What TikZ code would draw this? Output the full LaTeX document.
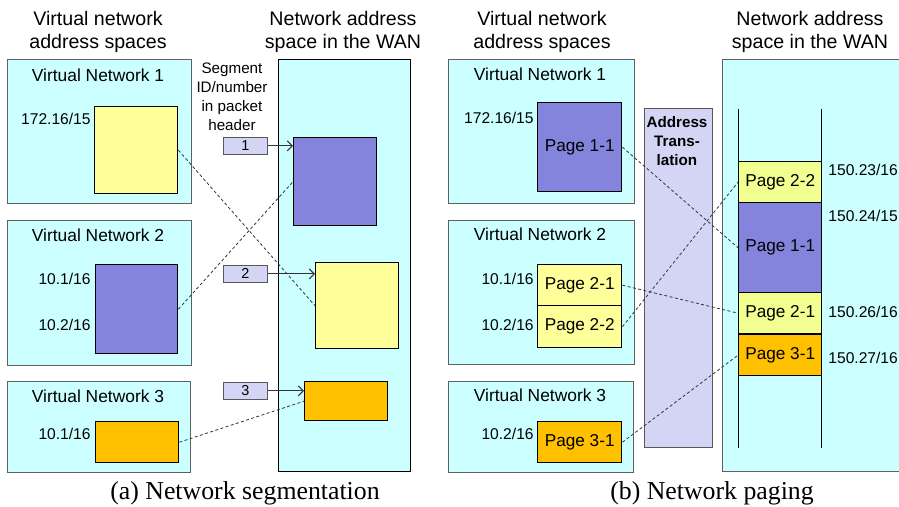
\documentclass[tikz,border=0pt]{standalone}
\usepackage{fontspec}
\setmainfont{Liberation Sans}
\newfontfamily\capfont{Liberation Serif}
\usetikzlibrary{arrows.meta, positioning}

\definecolor{cyanbg}{HTML}{CCFFFF}
\definecolor{ylw}{HTML}{FFFF99}
\definecolor{lime}{HTML}{F0FF90}
\definecolor{blu}{HTML}{8484DC}
\definecolor{org}{HTML}{FFC000}
\definecolor{lav}{HTML}{D4D4F4}

\begin{document}
\begin{tikzpicture}[x=0.5pt, y=-0.5pt,
        space/.style={draw=gray!75!black, fill=cyanbg, anchor=north west, inner sep=0pt, line width=0.5pt},
        blk/.style={draw=black, anchor=north west, inner sep=0pt, line width=0.7pt, font=\fontsize{8.6}{10}\selectfont},
        tag/.style={draw=gray!70!black, fill=lav, anchor=north west, inner sep=0pt, minimum width=22pt, minimum height=8.5pt, font=\fontsize{7.2}{8}\selectfont},
        head/.style={align=center, font=\fontsize{9.8}{11.5}\selectfont},
        title/.style={font=\fontsize{8.7}{10}\selectfont},
        lbl/.style={font=\fontsize{7.8}{9}\selectfont, inner sep=1pt},
        caption/.style={font=\capfont\fontsize{12.9}{14}\selectfont},
        link/.style={dash pattern=on 1.5pt off 1.2pt, line width=0.4pt, black!80},
        ptr/.style={-{Straight Barb[length=2.5pt, width=5pt]}, line width=0.5pt, gray!40!black}
    ]
    \clip (0,0) rectangle (899,507);

    % (a) network segmentation
    \node[head] (hvsa) at (98,31.5) {Virtual network\\address spaces};
    \node[head] (hwana) at (343,31.5) {Network address\\space in the WAN};

    \node[space, minimum width=92pt, minimum height=72pt] (vna1) at (7,59) {};
    \node[space, minimum width=92pt, minimum height=72.5pt] (vna2) at (7,220) {};
    \node[space, minimum width=91.5pt, minimum height=45.5pt] (vna3) at (7,381) {};
    \node[space, draw=black, minimum width=66pt, minimum height=206pt] (wana) at (278,59) {};

    \node[title] at (98,75) {Virtual Network 1};
    \node[title] at (98,235) {Virtual Network 2};
    \node[title] at (98,396) {Virtual Network 3};

    \node[blk, fill=ylw, minimum width=41.5pt, minimum height=43.5pt] (sega1) at (94,106) {};
    \node[blk, fill=blu, minimum width=41pt, minimum height=44.5pt] (sega2) at (95,264) {};
    \node[blk, fill=org, minimum width=41.5pt, minimum height=20.5pt] (sega3) at (95,421) {};

    \node[lbl, anchor=east] at (93,119) {172.16/15};
    \node[lbl, anchor=east] at (93,279) {10.1/16};
    \node[lbl, anchor=east] at (93,325) {10.2/16};
    \node[lbl, anchor=east] at (93,434) {10.1/16};

    \node[blk, fill=blu, minimum width=41.5pt, minimum height=44pt] (wsega2) at (293,137) {};
    \node[blk, fill=ylw, minimum width=41.5pt, minimum height=43pt] (wsega1) at (315,262) {};
    \node[blk, fill=org, minimum width=41.5pt, minimum height=19.5pt] (wsega3) at (304,381) {};

    \node[lbl, align=center, font=\fontsize{7.6}{9.5}\selectfont] (segid) at (232,96.5) {Segment\\ID/number\\in packet\\header};
    \node[tag] (tag1) at (223,137) {1};
    \node[tag] (tag2) at (223,265) {2};
    \node[tag] (tag3) at (223,382) {3};

    \draw[ptr] (tag1.east) -- (tag1.east -| wsega2.west);
    \draw[ptr] (tag2.east) -- (tag2.east -| wsega1.west);
    \draw[ptr] (tag3.east) -- (tag3.east -| wsega3.west);

    \draw[link] (sega1.east) -- (wsega1.west);
    \draw[link] (sega2.east) -- (wsega2.west);
    \draw[link] (sega3.east) -- (wsega3.west);

    \node[caption] at (245,493) {(a) Network segmentation};

    % (b) network paging
    \node[head] (hvsb) at (542,31.5) {Virtual network\\address spaces};
    \node[head] (hwanb) at (810,31.5) {Network address\\space in the WAN};

    \node[space, minimum width=93pt, minimum height=72pt] (vnb1) at (448,59) {};
    \node[space, minimum width=93pt, minimum height=72pt] (vnb2) at (448,220) {};
    \node[space, minimum width=92.5pt, minimum height=45.5pt] (vnb3) at (448,381) {};
    \node[space, minimum width=100pt, minimum height=206pt] (wanb) at (722,59) {};

    \node[title] at (540,74) {Virtual Network 1};
    \node[title] at (540,234) {Virtual Network 2};
    \node[title] at (540,395) {Virtual Network 3};

    \node[blk, fill=blu, minimum width=42pt, minimum height=44.5pt] (pg11) at (537,102) {Page 1-1};
    \node[blk, fill=ylw, minimum width=42pt, minimum height=20.5pt] (pg21) at (537,264) {Page 2-1};
    \node[blk, fill=ylw, minimum width=42pt, minimum height=21pt] (pg22) at (537,305) {Page 2-2};
    \node[blk, fill=org, minimum width=42pt, minimum height=20.5pt] (pg31) at (537,421) {Page 3-1};

    \node[lbl, anchor=east] at (536,118) {172.16/15};
    \node[lbl, anchor=east] at (536,279) {10.1/16};
    \node[lbl, anchor=east] at (536,325) {10.2/16};
    \node[lbl, anchor=east] at (536,434) {10.2/16};

    \node[tag, minimum width=34pt, minimum height=169.5pt] (xlat) at (644,108) {};
    \node[align=center, font=\bfseries\fontsize{7.6}{9.5}\selectfont] at (677,141) {Address\\Trans-\\lation};

    \draw[line width=0.5pt] (738,109) coordinate (rl1) -- (738,448) coordinate (rl2);
    \draw[line width=0.5pt] (821,109) coordinate (rr1) -- (821,448) coordinate (rr2);

    \node[blk, fill=lime, minimum width=41.5pt, minimum height=20.5pt] (wpg22) at (738,161) {Page 2-2};
    \node[blk, fill=blu, minimum width=41.5pt, minimum height=45pt] (wpg11) at (738,202) {Page 1-1};
    \node[blk, fill=lime, minimum width=41.5pt, minimum height=20.5pt] (wpg21) at (738,292) {Page 2-1};
    \node[blk, fill=org, minimum width=41.5pt, minimum height=20.5pt] (wpg31) at (738,334) {Page 3-1};

    \node[lbl, anchor=west] at (826,170) {150.23/16};
    \node[lbl, anchor=west] at (826,216) {150.24/15};
    \node[lbl, anchor=west] at (826,312) {150.26/16};
    \node[lbl, anchor=west] at (826,358) {150.27/16};

    \draw[link] (pg11.east) -- (wpg11.west);
    \draw[link] (pg21.east) -- (wpg21.west);
    \draw[link] (pg22.east) -- (wpg22.west);
    \draw[link] (pg31.east) -- (wpg31.west);

    \node[caption] at (712,493) {(b) Network paging};
\end{tikzpicture}
\end{document}
